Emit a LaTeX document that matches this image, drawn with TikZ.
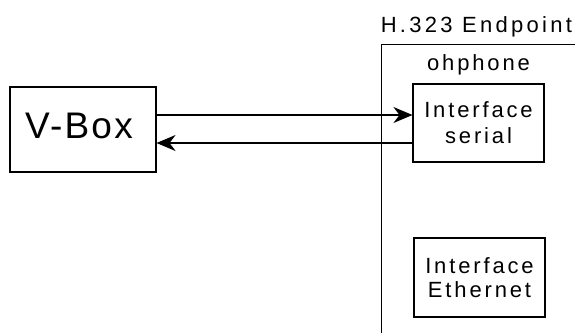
\documentclass[tikz,border=0pt]{standalone}
\usepackage{fontspec}
\setmainfont{Liberation Sans}
\newfontfamily\widefont[LetterSpace=13]{Liberation Sans}
\newfontfamily\titlefont[LetterSpace=15]{Liberation Sans}
\newfontfamily\bigfont[LetterSpace=6]{Liberation Sans}
\usetikzlibrary{arrows.meta,positioning}

\begin{document}
\begin{tikzpicture}[
  x=1pt, y=-1pt,
  box/.style={draw, line width=1.1pt, inner sep=0pt, align=center, font=\widefont\fontsize{22}{24}\selectfont},
  lbl/.style={inner sep=0pt, font=\widefont\fontsize{22}{24}\selectfont},
  conn/.style={line width=1.1pt, -{Stealth[length=19pt,width=16pt,inset=6pt]}}
]
\useasboundingbox (0,0) rectangle (575,332);
\clip (0,0) rectangle (575,332);
\node[box, minimum width=200pt, minimum height=300pt, anchor=north west] (endpoint) at (380.6,44) {};
\node[lbl, font=\titlefont\fontsize{22}{24}\selectfont, anchor=base west] (title) at ([yshift=12pt]endpoint.north west) {H.323 Endpoint};
\node[box, minimum width=146pt, minimum height=85pt, text depth=7pt, font=\bigfont\fontsize{37}{40}\selectfont] (vbox) at (83,129.5) {V-Box\hspace*{8pt}};
\node[box, minimum width=131pt, minimum height=78pt] (serial) at (478.5,123) {Interface\\[2pt]serial};
\node[lbl, above=8pt of serial] (ohphone) {ohphone};
\node[box, minimum width=131pt, minimum height=79pt] (ethernet) at (479.5,277.5) {Interface\\Ethernet};
\draw[conn] ([yshift=14.5pt]vbox.east) -- ([yshift=14.5pt]vbox.east -| serial.west);
\draw[conn] ([yshift=-13.5pt]vbox.east -| serial.west) -- ([yshift=-13.5pt]vbox.east);
\end{tikzpicture}
\end{document}
